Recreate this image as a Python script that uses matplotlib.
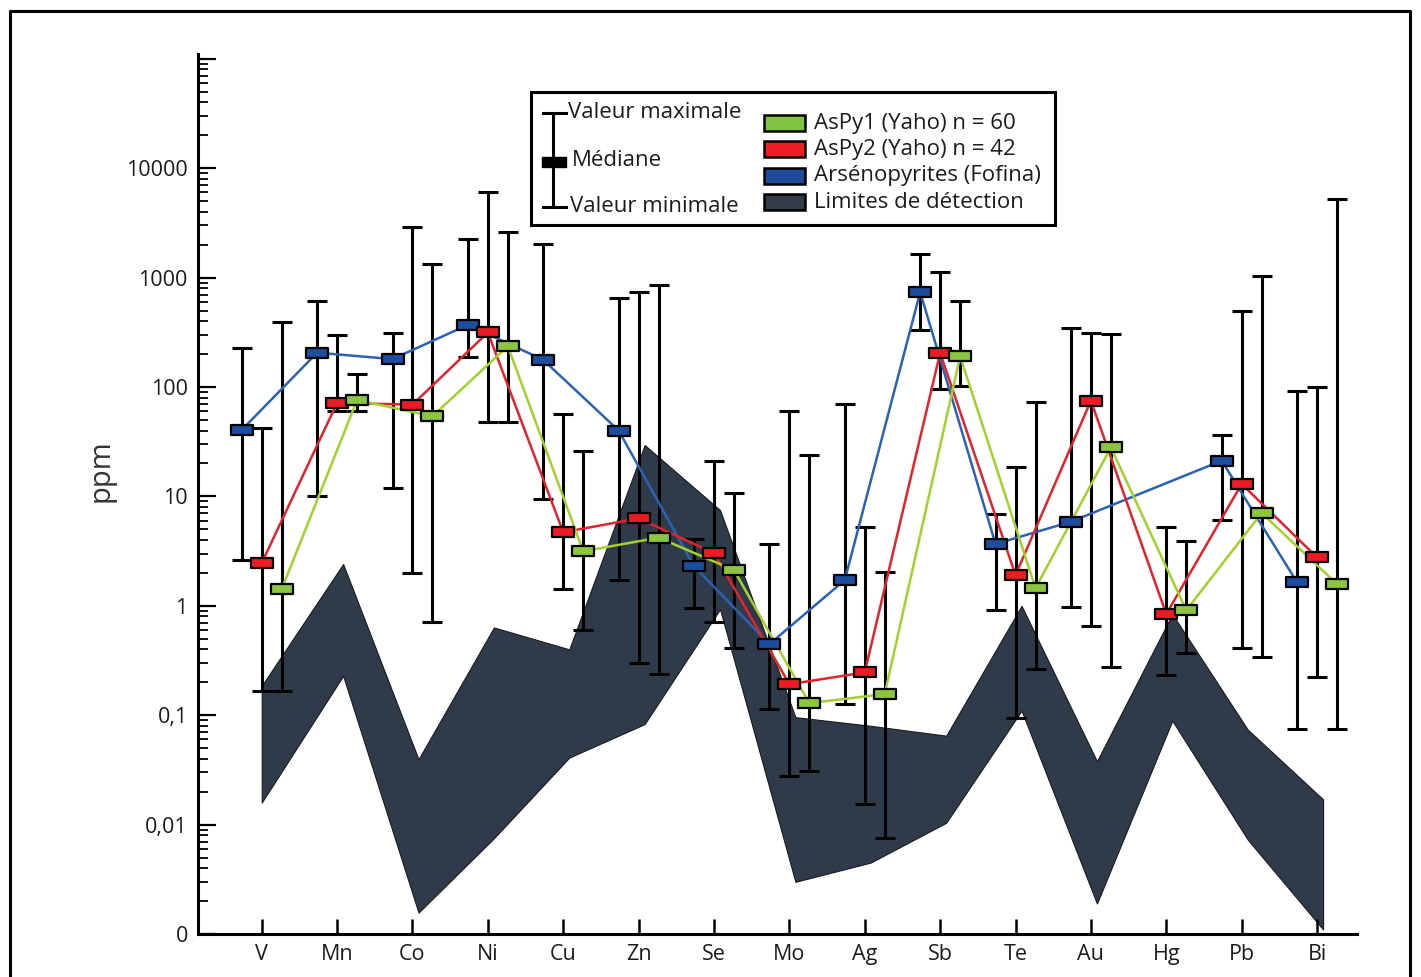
import numpy as np
import matplotlib
matplotlib.use("Agg")
import matplotlib.pyplot as plt
from matplotlib.patches import Rectangle
from matplotlib.ticker import FixedLocator, LogLocator, NullFormatter
from matplotlib.path import Path

plt.rcParams['font.family'] = ['Open Sans', 'DejaVu Sans']

# ---------------- data ----------------
categories = ["V", "Mn", "Co", "Ni", "Cu", "Zn", "Se", "Mo", "Ag", "Sb", "Te", "Au", "Hg", "Pb", "Bi"]

# AsPy1 (Yaho) n = 60  (green)
aspy1_med = [1.42, 76, 54, 236, 3.15, 4.2, 2.12, 0.129, 0.156, 191, 1.45, 28, 0.91, 7.05, 1.58]
aspy1_max = [392, 132, 1340, 2620, 25.9, 865, 10.7, 24, 2.05, 617, 73.5, 306, 3.93, 1032, 5250]
aspy1_min = [0.165, 60, 0.705, 47.6, 0.60, 0.237, 0.41, 0.031, 0.0076, 102, 0.267, 0.277, 0.367, 0.337, 0.0745]

# AsPy2 (Yaho) n = 42  (red)
aspy2_med = [2.46, 71.6, 69, 315, 4.7, 6.3, 3.03, 0.192, 0.246, 205, 1.91, 75, 0.84, 13, 2.77]
aspy2_max = [42, 300, 2900, 6100, 57, 736, 20.9, 60, 5.2, 1137, 18.5, 311, 5.3, 500, 101]
aspy2_min = [0.165, 60, 1.99, 47.6, 1.42, 0.297, 0.71, 0.028, 0.0155, 96, 0.095, 0.66, 0.232, 0.41, 0.224]

# Arsénopyrites (Fofina)  (blue) - no Hg value
fofina_med = [40.5, 206, 180, 370, 177, 40, 2.3, 0.446, 1.72, 736, 3.67, 5.87, np.nan, 21.2, 1.64]
fofina_max = [229, 617, 309, 2264, 2040, 653, 4.07, 3.67, 70, 1651, 6.9, 347, np.nan, 36.7, 92.7]
fofina_min = [2.6, 10.1, 11.9, 187, 9.5, 1.73, 0.95, 0.115, 0.126, 333, 0.91, 0.98, np.nan, 6.1, 0.0745]

# Limites de détection (band)
dl_upper = [0.186, 2.41, 0.0396, 0.634, 0.40, 29.5, 7.5, 0.096, 0.080, 0.065, 1.0, 0.038, 0.84, 0.074, 0.017]
dl_lower = [0.0159, 0.229, 0.00157, 0.0075, 0.041, 0.083, 0.93, 0.0030, 0.0045, 0.0104, 0.11, 0.0019, 0.089, 0.0073, 0.0011]

y_ticks = [1e-3, 1e-2, 1e-1, 1, 10, 100, 1000, 10000, 100000]
y_ticklabels = ["0", "0,01", "0,1", "1", "10", "100", "1000", "10000", ""]

legend_labels = ["AsPy1 (Yaho) n = 60", "AsPy2 (Yaho) n = 42",
                 "Arsénopyrites (Fofina)", "Limites de détection"]

TXT = '#1c1c1c'

# ---------------- figure ----------------
W, H = 1421, 977
fig = plt.figure(figsize=(W / 100, H / 100), dpi=100)
ax = fig.add_axes([197.5 / W, (H - 934) / H, 1159.5 / W, 880 / H])
ax.set_yscale('log')
ax.set_ylim(1e-3, 10 ** 5.044)
ax.set_xlim(-0.852, 14.53)

n = len(categories)
x = np.arange(n)

# detection limit band
xb = x + 0.08
xb[0] = x[0]
ax.fill_between(xb, dl_lower, dl_upper, facecolor='#2f3b4a', edgecolor='#1a1a1a',
                linewidth=0.8, zorder=1)

rect = Path([(-1, -0.42), (1, -0.42), (1, 0.42), (-1, 0.42), (-1, -0.42)],
            [Path.MOVETO, Path.LINETO, Path.LINETO, Path.LINETO, Path.CLOSEPOLY])

series = [
    (fofina_med, fofina_max, fofina_min, -0.265, '#2a62b4', '#1d4d9f'),
    (aspy2_med, aspy2_max, aspy2_min, 0.0, '#e3232b', '#ec1c24'),
    (aspy1_med, aspy1_max, aspy1_min, 0.265, '#a3d12c', '#8cc63f'),
]
for med, mx, mn, dx, lc, fc in series:
    med = np.asarray(med, float); mx = np.asarray(mx, float); mn = np.asarray(mn, float)
    ok = ~np.isnan(med)
    xs = x[ok] + dx
    ax.errorbar(xs, med[ok], yerr=[med[ok] - mn[ok], mx[ok] - med[ok]], fmt='none',
                ecolor='black', elinewidth=2.2, capsize=7.5, capthick=2.2, zorder=3)
    ax.plot(xs, med[ok], color=lc, lw=1.8, zorder=4)
    ax.plot(xs, med[ok], ls='none', marker=rect, ms=15.5, mfc=fc, mec='black',
            mew=1.6, zorder=5)

# axes styling
for s in ['top', 'right']:
    ax.spines[s].set_visible(False)
for s in ['left', 'bottom']:
    ax.spines[s].set_linewidth(2.2)
ax.set_facecolor('none')

ax.yaxis.set_major_locator(FixedLocator(y_ticks))
ax.set_yticklabels(y_ticklabels)
ax.yaxis.set_minor_locator(LogLocator(base=10, subs=np.arange(2, 10)))
ax.yaxis.set_minor_formatter(NullFormatter())
ax.tick_params(axis='y', which='major', direction='in', length=13, width=1.6,
               labelsize=15.5, pad=7, labelcolor=TXT)
ax.tick_params(axis='y', which='minor', direction='in', length=7, width=1.3)

ax.set_xticks(x)
ax.set_xticklabels(categories)
ax.tick_params(axis='x', which='major', direction='in', length=11, width=1.8,
               labelsize=15.5, pad=7, labelcolor=TXT)

# ---------------- overlay (legend, frame, ylabel) ----------------
ov = fig.add_axes([0, 0, 1, 1])
ov.set_xlim(0, W)
ov.set_ylim(H, 0)
ov.axis('off')
ov.set_zorder(10)

# outer frame
ov.plot([10, 10, 1410, 1410], [977, 11, 11, 977], color='black', lw=2.2)

ov.text(101, 471, 'ppm', rotation=90, ha='center', va='center', fontsize=21,
        color='#333333')

# legend box
ov.add_patch(Rectangle((531, 92), 524, 133, facecolor='white', edgecolor='black', lw=2.2))
ov.plot([553, 553], [113, 207], color='black', lw=2.2)
ov.plot([543, 566], [113, 113], color='black', lw=2.2)
ov.plot([543, 566], [207, 207], color='black', lw=2.2)
ov.add_patch(Rectangle((542, 157), 24, 10, facecolor='black', edgecolor='black'))
ov.text(568, 112, "Valeur maximale", ha='left', va='center', fontsize=16, color=TXT)
ov.text(572, 161, "Médiane", ha='left', va='center', fontsize=16, color=TXT)
ov.text(570, 206, "Valeur minimale", ha='left', va='center', fontsize=16, color=TXT)

patch_colors = ['#80c342', '#ee1c25', '#1e4a9c', '#333d47']
row_y = [123, 149, 176, 202]
for c, yc, lab in zip(patch_colors, row_y, legend_labels):
    ov.add_patch(Rectangle((764, yc - 8), 41, 16, facecolor=c, edgecolor='black', lw=1.8))
    ov.text(814, yc, lab, ha='left', va='center', fontsize=16, color=TXT)

fig.savefig('out.png', dpi=100)
